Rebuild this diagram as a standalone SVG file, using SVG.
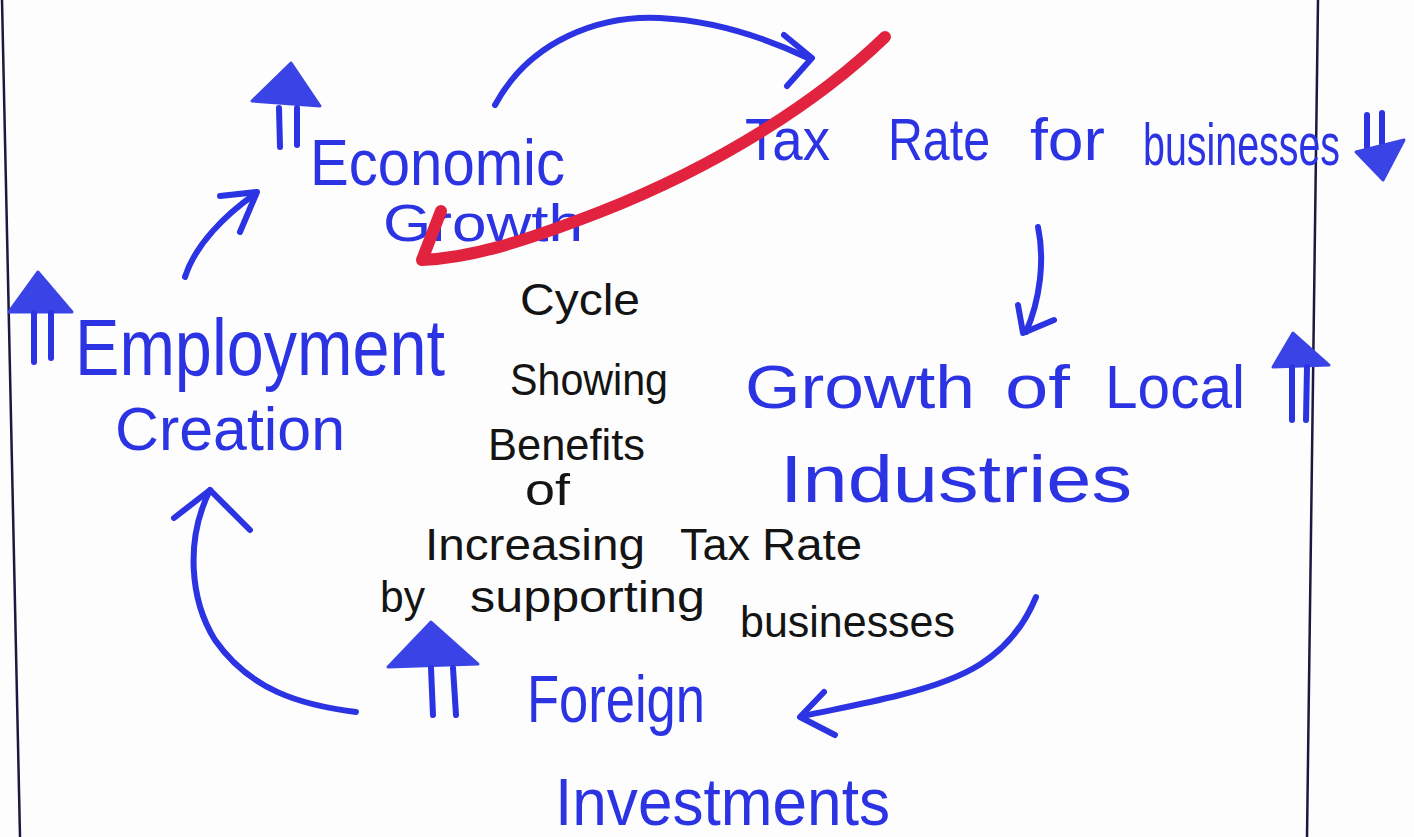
<svg xmlns="http://www.w3.org/2000/svg" width="1414" height="837" viewBox="0 0 1414 837">
<defs>
<style>
.b{font-family:"Liberation Sans","DejaVu Sans",sans-serif;fill:#2b33e3;}
.k{font-family:"Liberation Sans","DejaVu Sans",sans-serif;fill:#141414;font-size:44px;}
.ln{fill:none;stroke:#2b33e3;stroke-width:6;stroke-linecap:round;stroke-linejoin:round;}
.tri{fill:#3a44e6;stroke:#3a44e6;stroke-width:3;stroke-linejoin:round;}
.frame{stroke:#1a1a40;stroke-width:2.5;fill:none;}
</style>
</defs>
<rect width="1414" height="837" fill="#fdfdfd"/>
<g id="frame">
<line class="frame" x1="2" y1="0" x2="20" y2="837"/>
<line class="frame" x1="1318" y1="0" x2="1307" y2="837"/>
</g>

<g id="economic-growth">
<text class="b" x="310" y="185" font-size="64" textLength="255" lengthAdjust="spacingAndGlyphs">Economic</text>
<text class="b" x="383" y="241" font-size="52" textLength="200" lengthAdjust="spacingAndGlyphs">Growth</text>
<g id="eg-up">
<polygon class="tri" points="291,63 252,101 320,106"/>
<line class="ln" x1="279" y1="108" x2="280" y2="147"/>
<line class="ln" x1="297" y1="108" x2="297" y2="145"/>
</g>
</g>

<g id="tax-rate">
<text class="b" y="160" font-size="60">
<tspan x="745" textLength="85" lengthAdjust="spacingAndGlyphs">Tax</tspan>
<tspan x="888" textLength="102" lengthAdjust="spacingAndGlyphs">Rate</tspan>
<tspan x="1030" textLength="75" lengthAdjust="spacingAndGlyphs">for</tspan>
<tspan x="1143" y="165" textLength="197" lengthAdjust="spacingAndGlyphs">businesses</tspan>
</text>
<g id="tax-down">
<line class="ln" x1="1367" y1="115" x2="1367" y2="152"/>
<line class="ln" x1="1382" y1="113" x2="1382" y2="148"/>
<polygon class="tri" points="1356,152 1404,140 1383,180"/>
</g>
</g>

<g id="local-industries">
<text class="b" y="408" font-size="62">
<tspan x="745" textLength="230" lengthAdjust="spacingAndGlyphs">Growth</tspan>
<tspan x="1005" textLength="65" lengthAdjust="spacingAndGlyphs">of</tspan>
<tspan x="1105" textLength="140" lengthAdjust="spacingAndGlyphs">Local</tspan>
</text>
<text class="b" x="780" y="502" font-size="66" textLength="352" lengthAdjust="spacingAndGlyphs">Industries</text>
<g id="li-up">
<polygon class="tri" points="1293,333 1273,367 1329,365"/>
<line class="ln" x1="1292" y1="367" x2="1292" y2="420"/>
<line class="ln" x1="1307" y1="367" x2="1306" y2="420"/>
</g>
</g>

<g id="foreign-investments">
<text class="b" x="527" y="722" font-size="66" textLength="178" lengthAdjust="spacingAndGlyphs">Foreign</text>
<text class="b" x="555" y="825" font-size="66" textLength="335" lengthAdjust="spacingAndGlyphs">Investments</text>
<g id="fi-up">
<polygon class="tri" points="431,622 388,667 478,664"/>
<line class="ln" x1="431" y1="668" x2="433" y2="715"/>
<line class="ln" x1="453" y1="668" x2="456" y2="715"/>
</g>
</g>

<g id="employment-creation">
<text class="b" x="75" y="375" font-size="80" textLength="370" lengthAdjust="spacingAndGlyphs">Employment</text>
<text class="b" x="115" y="450" font-size="62" textLength="230" lengthAdjust="spacingAndGlyphs">Creation</text>
<g id="ec-up">
<polygon class="tri" points="38,272 9,312 72,312"/>
<line class="ln" x1="34" y1="313" x2="34" y2="362"/>
<line class="ln" x1="51" y1="313" x2="51" y2="358"/>
</g>
</g>

<g id="title">
<text class="k" x="520" y="315" textLength="120" lengthAdjust="spacingAndGlyphs">Cycle</text>
<text class="k" x="510" y="395" textLength="158" lengthAdjust="spacingAndGlyphs">Showing</text>
<text class="k" x="488" y="460" textLength="157" lengthAdjust="spacingAndGlyphs">Benefits</text>
<text class="k" x="525" y="505" font-size="40" textLength="45" lengthAdjust="spacingAndGlyphs">of</text>
<text class="k" y="560">
<tspan x="425" textLength="220" lengthAdjust="spacingAndGlyphs">Increasing</tspan>
<tspan x="680" textLength="70" lengthAdjust="spacingAndGlyphs">Tax</tspan>
<tspan x="762" textLength="100" lengthAdjust="spacingAndGlyphs">Rate</tspan>
</text>
<text class="k" y="612">
<tspan x="380" textLength="45" lengthAdjust="spacingAndGlyphs">by</tspan>
<tspan x="470" textLength="235" lengthAdjust="spacingAndGlyphs">supporting</tspan>
<tspan x="740" y="637" textLength="215" lengthAdjust="spacingAndGlyphs">businesses</tspan>
</text>
</g>

<g id="connectors">
<path class="ln" d="M495,105 C530,40 600,15 660,18 C720,21 770,40 808,58"/>
<polyline class="ln" points="784,35 812,58 787,86"/>
<path class="ln" d="M1038,227 C1045,260 1040,300 1026,332"/>
<polyline class="ln" points="1018,305 1023,333 1054,320"/>
<path class="ln" d="M1036,597 C1010,660 960,680 900,695 C860,705 830,710 803,716"/>
<polyline class="ln" points="824,692 800,717 835,735"/>
<path class="ln" d="M356,712 C300,705 250,690 215,640 C190,600 185,540 210,490"/>
<polyline class="ln" points="174,518 210,490 250,530"/>
<path class="ln" d="M185,277 C195,245 225,215 255,194"/>
<polyline class="ln" points="220,196 257,192 240,232"/>
<path d="M885,37 C820,100 720,165 600,212 C520,243 470,258 422,260 L441,211" fill="none" stroke="#e2233f" stroke-width="12" stroke-linecap="round" stroke-linejoin="round"/>
</g>
</svg>
